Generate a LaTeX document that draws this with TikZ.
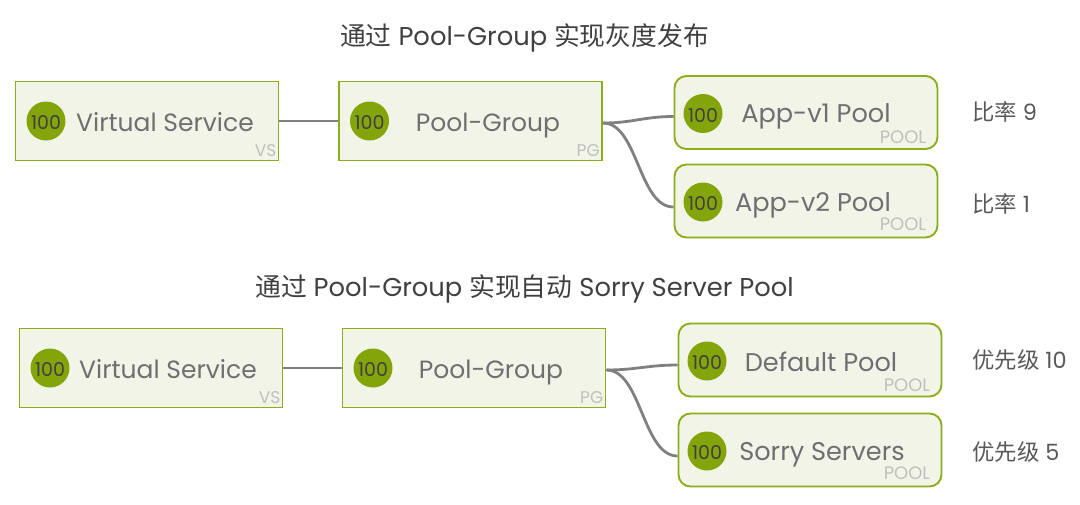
\documentclass[tikz,border=0pt]{standalone}
\usepackage{fontspec}
\setmainfont{Poppins}
\newfontfamily\cjk{Noto Sans CJK SC}
\definecolor{boxfill}{HTML}{F2F4E7}
\definecolor{boxline}{HTML}{8CAD1C}
\definecolor{badge}{HTML}{84A50A}
\definecolor{nametext}{HTML}{6E6F72}
\definecolor{tagtext}{HTML}{BFC0BE}
\definecolor{wire}{HTML}{808080}
\tikzset{
  vsbox/.style={draw=boxline, fill=boxfill, line width=1.9pt, minimum width=263pt, minimum height=79pt, inner sep=0pt},
  poolbox/.style={vsbox, rounded corners=12pt, minimum height=73pt},
  badgenode/.style={circle, fill=badge, minimum size=39pt, inner sep=0pt, text=black!75, text height=17pt, text depth=0pt, font=\fontsize{19}{19}\selectfont},
  namenode/.style={text=nametext, inner sep=0pt, anchor=base, font=\fontsize{25}{28}\selectfont},
  poolname/.style={namenode, font=\fontsize{25.6}{28}\selectfont},
  tagnode/.style={text=tagtext, inner sep=0pt, anchor=base east, font=\fontsize{17}{17}\selectfont},
  pooltag/.style={tagnode, font=\fontsize{18}{18}\selectfont},
  titlenode/.style={text=black!75, inner sep=0pt, anchor=base, font=\fontsize{25.8}{28}\selectfont},
  sidenode/.style={text=black!65, inner sep=0pt, anchor=base west, font=\fontsize{22.4}{26}\selectfont},
  wireline/.style={draw=wire, line width=2.8pt}
}
\begin{document}
\begin{tikzpicture}[x=1pt, y=-1pt]
\useasboundingbox (0,0) rectangle (1080,504);

\node[titlenode] (titlea) at (524.5,45) {{\cjk 通过} Pool-Group {\cjk 实现灰度发布}};
\node[titlenode] (titleb) at (524.5,296) {{\cjk 通过} Pool-Group {\cjk 实现自动} Sorry Server Pool};

% VS and PG
\foreach \nm/\x/\y/\lx/\txt/\tag in {vsa/147/121/165/Virtual Service/VS,pga/470.5/121/488/Pool-Group/PG,vsb/151/368/168/Virtual Service/VS,pgb/474/368/491/Pool-Group/PG} {
\node[vsbox] (\nm) at (\x,\y) {};
\node[badgenode] (\nm badge) at ({\x-101},\y) {100};
\node[namenode] (\nm name) at (\lx,\y+10) {\txt};
\node[tagnode] (\nm tag) at ([xshift=-3pt,yshift=5pt]\nm.south east) {\tag};
}
% pools
\foreach \nm/\x/\y/\lx/\ly/\ty/\txt in {poola/806/112.5/816/122/6/App-v1 Pool,poolb/806/201/813/211/8/App-v2 Pool,poolc/810/360/821/371/6/Default Pool,poold/810/450/822/460/8/Sorry Servers} {
\node[poolbox] (\nm) at (\x,\y) {};
\node[badgenode] (\nm badge) at ({\x-103},\y+1) {100};
\node[poolname] (\nm name) at (\lx,\ly) {\txt};
\node[pooltag] (\nm tag) at ([xshift=-12pt,yshift=\ty pt]\nm.south east) {POOL};
}
% labels
\node[sidenode] (ratea) at (972,120) {{\cjk 比率} 9};
\node[sidenode] (rateb) at (972,212) {{\cjk 比率} 1};
\node[sidenode] (prioa) at (972,368) {{\cjk 优先级} 10};
\node[sidenode] (priob) at (972,460) {{\cjk 优先级} 5};

% wires
\draw[wireline] (vsa.east) -- (pga.west);
\draw[wireline] (vsb.east) -- (pgb.west);
\draw[wireline] ([yshift=-2pt]pga.east) .. controls +(30,0) and +(-30,0) .. ([yshift=-4pt]poola.west);
\draw[wireline] ([yshift=-2pt]pga.east) .. controls +(35,0) and +(-35,0) .. ([yshift=-6pt]poolb.west);
\draw[wireline] ([yshift=-2pt]pgb.east) .. controls +(30,0) and +(-30,0) .. ([yshift=-5pt]poolc.west);
\draw[wireline] ([yshift=-2pt]pgb.east) .. controls +(35,0) and +(-35,0) .. ([yshift=-6pt]poold.west);

\end{tikzpicture}
\end{document}
